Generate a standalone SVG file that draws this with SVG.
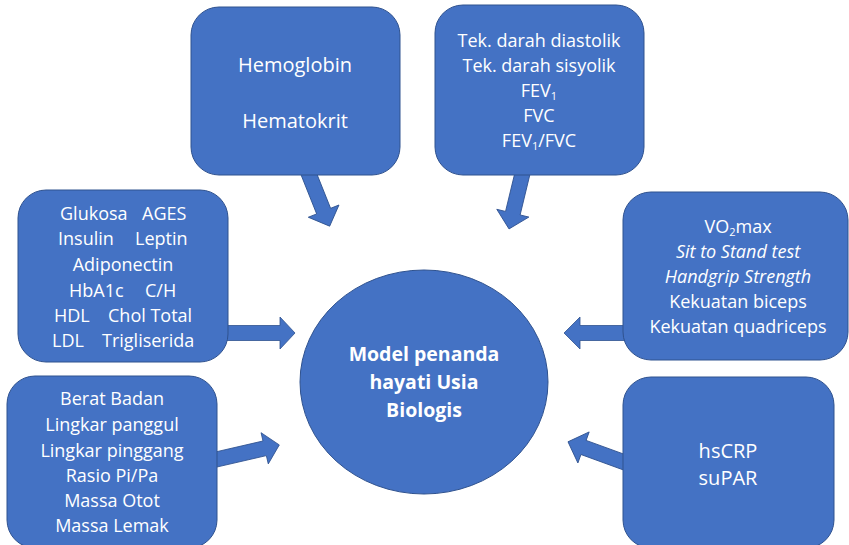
<svg xmlns="http://www.w3.org/2000/svg" width="849" height="545" viewBox="0 0 849 545">
<style>
.box{fill:#4472C4;stroke:#2F528F;stroke-width:1}
.arr{fill:#4472C4;stroke:#2F528F;stroke-width:0.8}
text{font-family:"Open Sans","Liberation Sans",sans-serif;fill:#FFFFFF;font-size:18px}
.c{text-anchor:middle}
.big{font-size:20px}
.b{font-weight:bold;font-size:19.5px}
.i{font-style:italic}
</style>
<defs>
<path id="a59" d="M0,-7.5 H44 V-16.5 L59,0 L44,16.5 V7.5 H0 Z"/>
<path id="a67" d="M0,-7.5 H52 V-16 L67,0 L52,16 V7.5 H0 Z"/>
</defs>
<rect width="849" height="545" fill="#FFFFFF"/>
<g id="connectors">
<path class="arr" d="M222,325.5 H280 V317 L295,333 L280,349 V340.5 H222 Z"/>
<path class="arr" d="M629,325.5 H580 V317 L564,333 L580,349 V340.5 H629 Z"/>
<use href="#a59" class="arr" transform="translate(306,167) rotate(68.2) scale(1.08,1)"/>
<use href="#a59" class="arr" transform="translate(524,167) rotate(103.6) scale(1.08,1)"/>
<use href="#a67" class="arr" transform="translate(214,460) rotate(-13)"/>
<use href="#a59" class="arr" transform="translate(629,464) rotate(-160) scale(1.1,1)"/>
</g>
<g id="center">
<ellipse cx="424" cy="382" rx="124" ry="112" class="box"/>
<text class="c b" x="424" y="361">Model penanda</text>
<text class="c b" x="424" y="389">hayati Usia</text>
<text class="c b" x="424" y="417">Biologis</text>
</g>
<g id="hemo">
<rect x="191" y="7" width="209" height="168" rx="28" class="box"/>
<text class="c big" x="295" y="72">Hemoglobin</text>
<text class="c big" x="295" y="128">Hematokrit</text>
</g>
<g id="tek">
<rect x="435" y="5" width="209" height="170" rx="28" class="box"/>
<text class="c" x="539" y="47">Tek. darah diastolik</text>
<text class="c" x="539" y="72">Tek. darah sisyolik</text>
<text class="c" x="539" y="97">FEV<tspan font-size="11" dy="3">1</tspan></text>
<text class="c" x="539" y="122">FVC</text>
<text class="c" x="539" y="147">FEV<tspan font-size="11" dy="3">1</tspan><tspan dy="-3">/FVC</tspan></text>
</g>
<g id="glukosa">
<rect x="18" y="190" width="210" height="172" rx="28" class="box"/>
<text y="220"><tspan x="60">Glukosa</tspan><tspan x="142">AGES</tspan></text>
<text y="245"><tspan x="58">Insulin</tspan><tspan x="135">Leptin</tspan></text>
<text class="c" x="123" y="271">Adiponectin</text>
<text y="297"><tspan x="69">HbA1c</tspan><tspan x="145">C/H</tspan></text>
<text y="322"><tspan x="54">HDL</tspan><tspan x="108">Chol Total</tspan></text>
<text y="347"><tspan x="52">LDL</tspan><tspan x="102">Trigliserida</tspan></text>
</g>
<g id="berat">
<rect x="7" y="376" width="210" height="172" rx="28" class="box"/>
<text class="c" x="112" y="405">Berat Badan</text>
<text class="c" x="112" y="431">Lingkar panggul</text>
<text class="c" x="112" y="457">Lingkar pinggang</text>
<text class="c" x="112" y="482">Rasio Pi/Pa</text>
<text class="c" x="112" y="507">Massa Otot</text>
<text class="c" x="112" y="532">Massa Lemak</text>
</g>
<g id="vo2">
<rect x="623" y="192" width="225" height="168" rx="28" class="box"/>
<text class="c" x="738" y="233">VO<tspan font-size="11" dy="3">2</tspan><tspan dy="-3">max</tspan></text>
<text class="c i" x="738" y="258">Sit to Stand test</text>
<text class="c i" x="738" y="283">Handgrip Strength</text>
<text class="c" x="738" y="308">Kekuatan biceps</text>
<text class="c" x="738" y="333">Kekuatan quadriceps</text>
</g>
<g id="hscrp">
<rect x="623" y="377" width="211" height="171" rx="28" class="box"/>
<text class="c big" x="728" y="458">hsCRP</text>
<text class="c big" x="728" y="485">suPAR</text>
</g>
</svg>
